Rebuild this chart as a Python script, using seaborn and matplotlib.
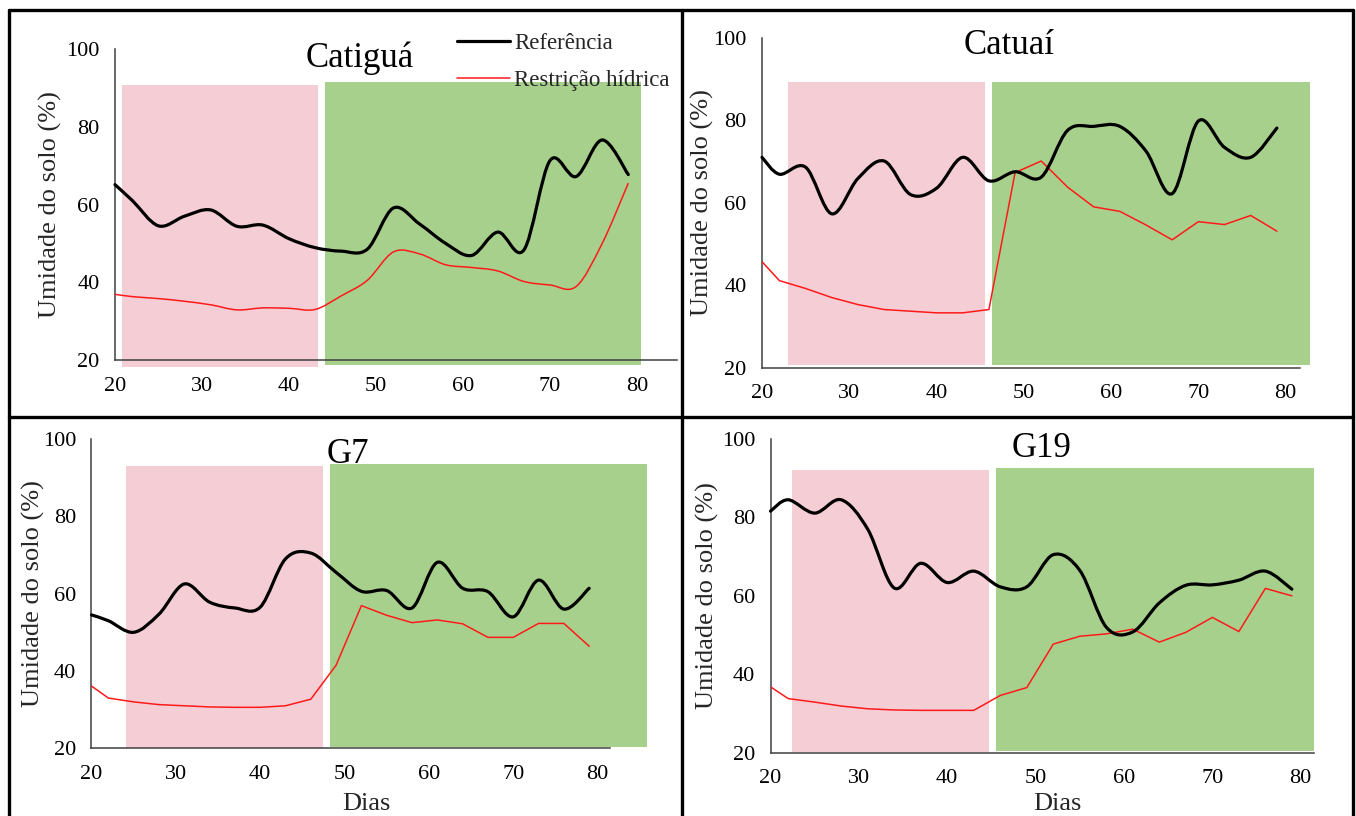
import numpy as np
import pandas as pd
import matplotlib
matplotlib.use("Agg")
import matplotlib.pyplot as plt
import seaborn as sns
from matplotlib.path import Path
from matplotlib.patches import PathPatch, Rectangle
from matplotlib.lines import Line2D

# ---------------- data ----------------
days = [20, 22, 25, 28, 31, 34, 37, 40, 43, 46, 49, 52, 55, 58, 61, 64, 67, 70, 73, 76, 79]

catigua_ref = [65.1, 61.0, 54.5, 57.0, 58.6, 54.4, 54.7, 51.2, 48.9, 48.0, 48.5, 59.1, 55.0, 50.0, 46.9, 52.9, 48.3, 71.3, 67.2, 76.6, 67.7]
catigua_rest = [36.9, 36.3, 35.8, 35.1, 34.2, 32.9, 33.4, 33.3, 33.0, 36.5, 40.5, 47.8, 47.3, 44.5, 43.8, 42.9, 40.2, 39.3, 38.9, 50.0, 65.5]

catuai_ref = [71.0, 66.9, 68.6, 57.3, 65.9, 70.1, 62.0, 63.5, 71.0, 65.3, 67.5, 66.2, 77.5, 78.5, 78.5, 72.5, 62.2, 79.8, 73.4, 71.0, 78.1]
catuai_rest = [45.7, 41.1, 39.2, 37.0, 35.3, 34.1, 33.7, 33.3, 33.3, 34.1, 67.3, 70.1, 63.8, 59.0, 57.9, 54.6, 51.0, 55.4, 54.7, 56.9, 53.1]

g7_ref = [54.5, 53.0, 50.0, 54.7, 62.5, 57.8, 56.3, 56.5, 69.0, 70.5, 65.5, 60.6, 60.8, 56.3, 68.1, 61.4, 60.5, 54.0, 63.5, 56.0, 61.4]
g7_rest = [36.1, 33.0, 32.0, 31.3, 31.0, 30.7, 30.6, 30.6, 31.0, 32.7, 41.5, 56.9, 54.4, 52.5, 53.2, 52.2, 48.7, 48.7, 52.3, 52.3, 46.4]

g19_ref = [81.6, 84.5, 81.1, 84.5, 77.0, 62.0, 68.3, 63.4, 66.3, 62.3, 62.3, 70.5, 66.5, 52.0, 50.8, 58.2, 62.7, 62.8, 64.0, 66.3, 61.7]
g19_rest = [36.8, 33.8, 32.9, 31.9, 31.2, 30.9, 30.8, 30.8, 30.8, 34.6, 36.6, 47.7, 49.7, 50.3, 51.5, 48.2, 50.7, 54.5, 50.9, 61.9, 60.0]

titles = ["Catiguá", "Catuaí", "G7", "G19"]
series_labels = ["Referência", "Restrição hídrica"]
y_label = "Umidade do solo (%)"
x_label = "Dias"
y_ticks = [20, 40, 60, 80, 100]
x_ticks = [20, 30, 40, 50, 60, 70, 80]

# phase periods (days) : water restriction / recovery
restriction_periods = [(20.8, 43.3), (23.0, 45.5), (24.05, 47.4), (22.4, 44.7)]
recovery_periods = [(44.1, 80.5), (46.4, 82.8), (48.3, 85.9), (45.5, 81.5)]

# ---------------- style ----------------
sns.set_style("white")
plt.rcParams["font.family"] = ["Liberation Serif", "DejaVu Serif"]

W, H = 1356, 816
fig = plt.figure(figsize=(W / 100, H / 100), dpi=100)


def fx(px):
    return px / W


def fy(py):
    return 1 - py / H


PINK = "#F5CDD4"
GREEN = "#A8D08D"
AXC = "#404040"
RED = "#FF1A1A"

# layout per panel: left px, px per day, xmax, top px (y=100), bottom px (y=20)
layouts = [
    dict(left=115, scale=8.7, xmax=84.6, top=49, bottom=360,
         pink_y=(18.3, 90.8), green_y=(18.7, 91.4),
         title_xy=(360, 67), ylab_x=50, xlab=None),
    dict(left=762, scale=8.727, xmax=81.6, top=37.7, bottom=367.7,
         pink_y=(20.65, 89.3), green_y=(20.65, 89.3),
         title_xy=(1009, 54), ylab_x=702, xlab=None),
    dict(left=91.5, scale=8.435, xmax=81.5, top=439, bottom=748.3,
         pink_y=(20.15, 93.0), green_y=(20.4, 93.5),
         title_xy=(348, 463), ylab_x=33, xlab=(366, 815)),
    dict(left=770.5, scale=8.837, xmax=81.5, top=439, bottom=752.7,
         pink_y=(20.1, 92.0), green_y=(20.5, 92.6),
         title_xy=(1042, 457), ylab_x=707, xlab=(1057, 815)),
]

refs = [catigua_ref, catuai_ref, g7_ref, g19_ref]
rests = [catigua_rest, catuai_rest, g7_rest, g19_rest]
smooth_rest = [True, False, False, False]


def smooth_path(x, y):
    x = np.asarray(x, float)
    y = np.asarray(y, float)
    n = len(x)
    verts = [(x[0], y[0])]
    codes = [Path.MOVETO]
    for i in range(n - 1):
        p0 = np.array([x[max(i - 1, 0)], y[max(i - 1, 0)]])
        p1 = np.array([x[i], y[i]])
        p2 = np.array([x[i + 1], y[i + 1]])
        p3 = np.array([x[min(i + 2, n - 1)], y[min(i + 2, n - 1)]])
        c1 = p1 + (p2 - p0) / 6.0
        c2 = p2 - (p3 - p1) / 6.0
        verts += [tuple(c1), tuple(c2), tuple(p2)]
        codes += [Path.CURVE4] * 3
    return Path(verts, codes)


axes = []
for k, L in enumerate(layouts):
    right = L["left"] + (L["xmax"] - 20) * L["scale"]
    ax = fig.add_axes([fx(L["left"]), fy(L["bottom"]),
                       (right - L["left"]) / W, (L["bottom"] - L["top"]) / H])
    ax.set_facecolor("none")
    ax.set_xlim(20, L["xmax"])
    ax.set_ylim(20, 100)

    # background phases
    p0, p1 = restriction_periods[k]
    g0, g1 = recovery_periods[k]
    ax.add_patch(Rectangle((p0, L["pink_y"][0]), p1 - p0, L["pink_y"][1] - L["pink_y"][0],
                           facecolor=PINK, edgecolor="none", zorder=1, clip_on=False))
    ax.add_patch(Rectangle((g0, L["green_y"][0]), g1 - g0, L["green_y"][1] - L["green_y"][0],
                           facecolor=GREEN, edgecolor="none", zorder=1, clip_on=False))

    # title (drawn beneath the phase boxes, as in the original)
    ax.text(fx(L["title_xy"][0]), fy(L["title_xy"][1]), titles[k],
            transform=fig.transFigure, ha="center", va="baseline",
            fontsize=25, color="black", zorder=0.8)

    # restriction series
    df = pd.DataFrame({"Dias": days, "Umidade": rests[k]})
    if smooth_rest[k]:
        ax.add_patch(PathPatch(smooth_path(days, rests[k]), facecolor="none",
                               edgecolor=RED, lw=1.1, zorder=3, clip_on=False))
    else:
        sns.lineplot(data=df, x="Dias", y="Umidade", ax=ax, color=RED,
                     lw=1.1, zorder=3, legend=False)

    # reference series (smoothed)
    ax.add_patch(PathPatch(smooth_path(days, refs[k]), facecolor="none",
                           edgecolor="black", lw=2.3, zorder=4, clip_on=False,
                           capstyle="round", joinstyle="round"))

    ax.set_xticks(x_ticks)
    ax.set_yticks(y_ticks)
    ax.tick_params(axis="both", direction="out", length=5, width=1, color=AXC,
                   labelsize=16, labelcolor="black")
    ax.tick_params(axis="x", pad=7)
    ax.tick_params(axis="y", pad=6)
    for s in ["top", "right"]:
        ax.spines[s].set_visible(False)
    for s in ["left", "bottom"]:
        ax.spines[s].set_color(AXC)
        ax.spines[s].set_linewidth(1.1)
        ax.spines[s].set_zorder(2.5)
    ax.set_xlabel("")
    ax.set_ylabel("")

    # y label
    fig.text(fx(L["ylab_x"]), fy((L["top"] + L["bottom"]) / 2), y_label,
             rotation=90, ha="center", va="center", fontsize=19)
    if L["xlab"] is not None:
        fig.text(fx(L["xlab"][0]), fy(L["xlab"][1]), x_label,
                 ha="center", va="bottom", fontsize=19)
    axes.append(ax)

# legend in first panel
handles = [Line2D([], [], color="black", lw=2.3), Line2D([], [], color=RED, lw=1.1)]
leg = axes[0].legend(handles, series_labels, loc="upper left",
                     bbox_to_anchor=(fx(457), fy(33)), bbox_transform=fig.transFigure,
                     frameon=False, fontsize=16.5, handlelength=2.3, handletextpad=0.2,
                     labelspacing=0.7, borderpad=0, borderaxespad=0)
leg.set_zorder(5)

# panel frames
lw_frame = 2.4
frame_lines = [
    ((9, 1353), (10, 10)),
    ((9, 1353), (417, 417)),
    ((9, 9), (10, 816)),
    ((682, 682), (10, 816)),
    ((1353, 1353), (10, 816)),
]
for xs, ys in frame_lines:
    fig.add_artist(Line2D([fx(xs[0]), fx(xs[1])], [fy(ys[0]), fy(ys[1])],
                          transform=fig.transFigure, color="black", lw=lw_frame))

fig.savefig("out.png", dpi=100)
